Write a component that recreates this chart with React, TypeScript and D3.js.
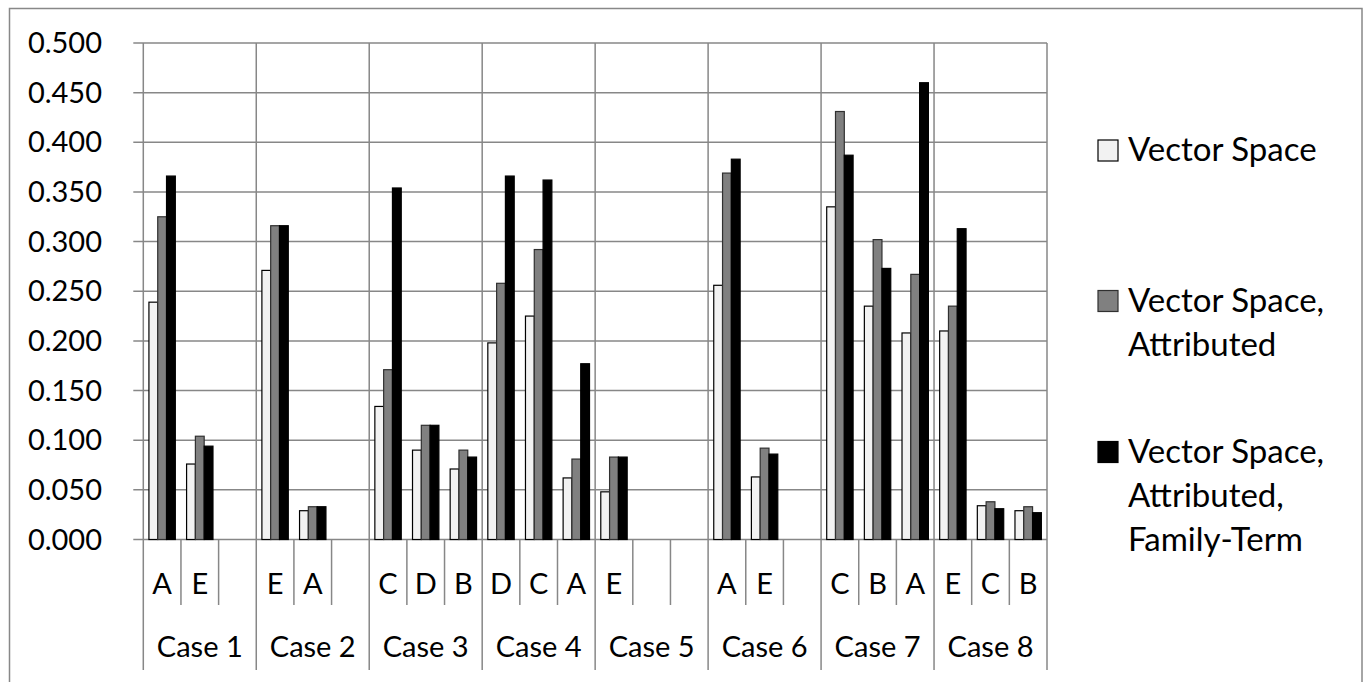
import React from "react";
import * as d3 from "d3";

// Categories: each case has three slots, some left empty
const cases = ["Case 1", "Case 2", "Case 3", "Case 4", "Case 5", "Case 6", "Case 7", "Case 8"];
const slotLabels = [
  ["A", "E", ""],
  ["E", "A", ""],
  ["C", "D", "B"],
  ["D", "C", "A"],
  ["E", "", ""],
  ["A", "E", ""],
  ["C", "B", "A"],
  ["E", "C", "B"],
];

const seriesNames = ["Vector Space", "Vector Space, Attributed", "Vector Space, Attributed, Family-Term"];

// Values per slot, in case order (null = empty slot)
const vectorSpace = [
  0.239, 0.076, null,
  0.271, 0.029, null,
  0.134, 0.090, 0.071,
  0.198, 0.225, 0.062,
  0.048, null, null,
  0.256, 0.063, null,
  0.335, 0.235, 0.208,
  0.210, 0.034, 0.029,
];
const attributed = [
  0.325, 0.104, null,
  0.316, 0.033, null,
  0.171, 0.115, 0.090,
  0.258, 0.292, 0.081,
  0.083, null, null,
  0.369, 0.092, null,
  0.431, 0.302, 0.267,
  0.235, 0.038, 0.033,
];
const familyTerm = [
  0.366, 0.094, null,
  0.316, 0.033, null,
  0.354, 0.115, 0.083,
  0.366, 0.362, 0.177,
  0.083, null, null,
  0.383, 0.086, null,
  0.387, 0.273, 0.460,
  0.313, 0.031, 0.027,
];

const yTicks = [0, 0.05, 0.1, 0.15, 0.2, 0.25, 0.3, 0.35, 0.4, 0.45, 0.5];

const seriesFill = ["#f2f2f2", "#808080", "#000000"];
const seriesStroke = ["#000000", "#303030", "#000000"];

const legendLines = [["Vector Space"], ["Vector Space,", "Attributed"], ["Vector Space,", "Attributed,", "Family-Term"]];

const W = 1365;
const H = 682;
const FONT = "Lato, 'Open Sans', sans-serif";

export default function App() {
  const plotLeft = 143.3;
  const plotRight = 1047;
  const plotTop = 43;
  const plotBottom = 539.5;

  const y = d3.scaleLinear().domain([0, 0.5]).range([plotBottom, plotTop]);

  const slotKeys = d3.range(cases.length * 3).map(String);
  const xSlot = d3.scaleBand<string>().domain(slotKeys).range([plotLeft, plotRight]);
  const xCase = d3.scaleBand<string>().domain(cases).range([plotLeft, plotRight]);
  const xSeries = d3
    .scaleBand<string>()
    .domain(seriesNames)
    .range([0, xSlot.bandwidth()])
    .paddingInner(0)
    .paddingOuter(0.64);

  const allSeries = [vectorSpace, attributed, familyTerm];
  const gridColor = "#878787";

  const subLabelY = 594;
  const caseLabelY = 657;
  const subSepBottom = 605;
  const caseSepBottom = 670;
  const axisFont = 29;

  return (
    <svg
      width={W}
      height={H}
      style={{ position: "absolute", left: 0, top: 0, background: "#fff" }}
      fontFamily={FONT}
    >
      <rect x={0} y={0} width={W} height={H} fill="#fff" />
      {/* chart border */}
      <rect x={9.5} y={8.5} width={1352.5} height={700} fill="none" stroke="#888" strokeWidth={1.5} />

      {/* horizontal gridlines with outside ticks */}
      {yTicks.map((t) => (
        <line
          key={"g" + t}
          x1={plotLeft - 10}
          x2={plotRight}
          y1={y(t)}
          y2={y(t)}
          stroke={gridColor}
          strokeWidth={1.5}
        />
      ))}

      {/* vertical lines at case boundaries, extending through the category axis */}
      {d3.range(cases.length + 1).map((i) => {
        const x = i < cases.length ? (xCase(cases[i]) as number) : plotRight;
        return (
          <line
            key={"c" + i}
            x1={x}
            x2={x}
            y1={plotTop}
            y2={caseSepBottom}
            stroke={gridColor}
            strokeWidth={1.5}
          />
        );
      })}

      {/* slot separators below the axis */}
      {slotKeys.map((k, i) =>
        i % 3 === 0 ? null : (
          <line
            key={"s" + k}
            x1={xSlot(k)}
            x2={xSlot(k)}
            y1={plotBottom}
            y2={subSepBottom}
            stroke={gridColor}
            strokeWidth={1.5}
          />
        )
      )}

      {/* bars */}
      {allSeries.map((vals, si) =>
        vals.map((v, i) =>
          v == null ? null : (
            <rect
              key={si + "-" + i}
              x={(xSlot(String(i)) as number) + (xSeries(seriesNames[si]) as number)}
              y={y(v)}
              width={xSeries.bandwidth()}
              height={y(0) - y(v)}
              fill={seriesFill[si]}
              stroke={seriesStroke[si]}
              strokeWidth={1.2}
            />
          )
        )
      )}

      {/* y tick labels */}
      {yTicks.map((t) => (
        <text
          key={"t" + t}
          x={102}
          y={y(t) + 10}
          textAnchor="end"
          fontSize={axisFont}
          fill="#000"
        >
          {d3.format(".3f")(t)}
        </text>
      ))}

      {/* slot labels */}
      {slotLabels.map((labels, ci) =>
        labels.map((lab, li) => {
          const k = String(ci * 3 + li);
          return lab ? (
            <text
              key={"l" + k}
              x={(xSlot(k) as number) + xSlot.bandwidth() / 2}
              y={subLabelY}
              textAnchor="middle"
              fontSize={axisFont}
              fill="#000"
            >
              {lab}
            </text>
          ) : null;
        })
      )}

      {/* case labels */}
      {cases.map((c) => (
        <text
          key={"cl" + c}
          x={(xCase(c) as number) + xCase.bandwidth() / 2}
          y={caseLabelY}
          textAnchor="middle"
          fontSize={axisFont}
          fill="#000"
        >
          {c}
        </text>
      ))}

      {/* legend */}
      {legendLines.map((lines, li) => {
        const baseY = [161, 311.5, 462.5][li];
        return (
          <g key={"lg" + li}>
            <rect
              x={1098}
              y={baseY - 21}
              width={20}
              height={21}
              fill={seriesFill[li]}
              stroke={seriesStroke[li]}
              strokeWidth={1.2}
            />
            {lines.map((ln, j) => (
              <text key={j} x={1128} y={baseY + j * 44} fontSize={33} fill="#000">
                {ln}
              </text>
            ))}
          </g>
        );
      })}
    </svg>
  );
}
